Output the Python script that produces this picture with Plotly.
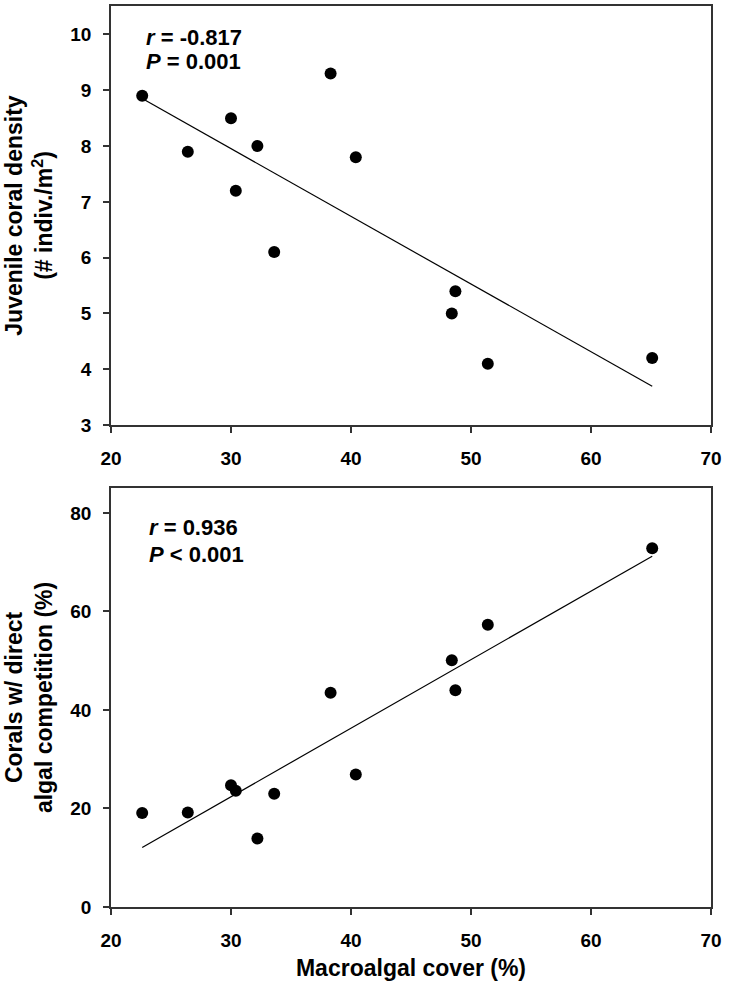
import numpy as np
import plotly.graph_objects as go
from plotly.subplots import make_subplots

# Data
macroalgal_cover = [22.6, 26.4, 30.0, 30.4, 32.2, 33.6, 38.3, 40.4, 48.4, 48.7, 51.4, 65.1]
juvenile_density = [8.9, 7.9, 8.5, 7.2, 8.0, 6.1, 9.3, 7.8, 5.0, 5.4, 4.1, 4.2]
algal_competition = [19.1, 19.2, 24.7, 23.6, 13.9, 23.0, 43.5, 26.9, 50.1, 44.0, 57.3, 72.8]

stats_top = ["<i>r</i> = -0.817", "<i>P</i> = 0.001"]
stats_bottom = ["<i>r</i> = 0.936", "<i>P</i> < 0.001"]

x_ticks = [20, 30, 40, 50, 60, 70]
y_ticks_top = [3, 4, 5, 6, 7, 8, 9, 10]
y_ticks_bottom = [0, 20, 40, 60, 80]

FONT = "Liberation Sans, Arial, sans-serif"

fig = make_subplots(rows=2, cols=1, vertical_spacing=0.0698)

def add_panel(row, yvals):
    x = np.array(macroalgal_cover)
    y = np.array(yvals)
    slope, intercept = np.polyfit(x, y, 1)
    xl = np.array([x.min(), x.max()])
    yl = slope * xl + intercept
    fig.add_trace(go.Scatter(x=xl, y=yl, mode="lines",
                             line=dict(color="black", width=1.2),
                             showlegend=False, hoverinfo="skip"), row=row, col=1)
    fig.add_trace(go.Scatter(x=x, y=y, mode="markers",
                             marker=dict(color="black", size=12),
                             showlegend=False), row=row, col=1)

add_panel(1, juvenile_density)
add_panel(2, algal_competition)

axis_common = dict(
    showline=True, linecolor="#333", linewidth=1.5, mirror=True,
    ticks="outside", ticklen=6, tickcolor="#333", tickwidth=1.5,
    showgrid=False, zeroline=False,
    tickfont=dict(family=FONT, size=19, color="black", weight="bold"),
)

fig.update_xaxes(**axis_common, range=[20, 70], tickvals=x_ticks, ticklabelstandoff=9)
fig.update_xaxes(title=dict(text="Macroalgal cover (%)",
                            font=dict(family=FONT, size=23, color="black", weight="bold"),
                            standoff=10), row=2, col=1)

fig.update_yaxes(**axis_common, ticklabelstandoff=8)
fig.update_yaxes(range=[3, 10.51], tickvals=y_ticks_top,
                 title=dict(text="Juvenile coral density<br>(# indiv./m<sup>2</sup>)",
                            font=dict(family=FONT, size=23, color="black", weight="bold"),
                            standoff=11), row=1, col=1)
fig.update_yaxes(range=[0, 85.06], tickvals=y_ticks_bottom,
                 title=dict(text="Corals w/ direct<br>algal competition (%)",
                            font=dict(family=FONT, size=23, color="black", weight="bold"),
                            standoff=11), row=2, col=1)

ann_font = dict(family=FONT, size=22, color="black", weight="bold")
for txt, yy in zip(stats_top, [0.926, 0.868]):
    fig.add_annotation(text=txt, xref="x domain", yref="y domain", x=0.055, y=yy,
                       xanchor="left", yanchor="middle", showarrow=False, font=ann_font)
for txt, yy in zip(stats_bottom, [0.905, 0.842]):
    fig.add_annotation(text=txt, xref="x2 domain", yref="y2 domain", x=0.060, y=yy,
                       xanchor="left", yanchor="middle", showarrow=False, font=ann_font)

fig.update_layout(
    width=729, height=991,
    margin=dict(l=111, r=18, t=4, b=84),
    paper_bgcolor="white", plot_bgcolor="white",
    font=dict(family=FONT, color="black"),
)

fig.write_html("out.html", config={"displayModeBar": False},
               post_script="document.body.style.margin='0';")
